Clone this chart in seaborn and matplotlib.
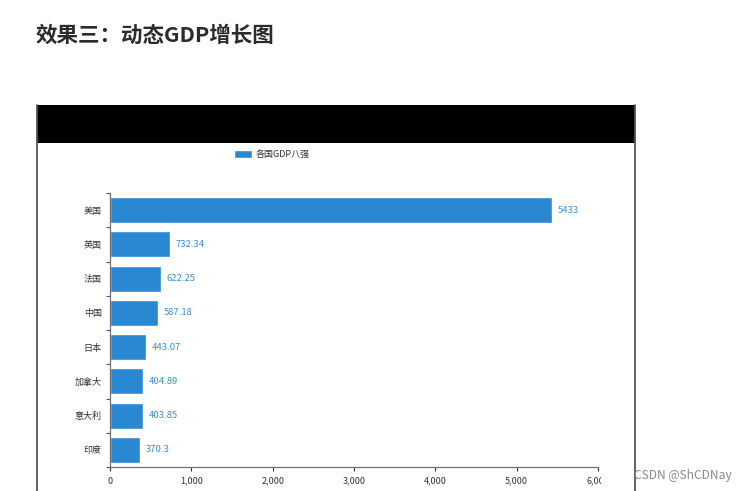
import matplotlib
matplotlib.use("Agg")
import matplotlib.pyplot as plt
import seaborn as sns
import pandas as pd
from matplotlib.patches import Rectangle, FancyBboxPatch
from matplotlib.lines import Line2D
from matplotlib.ticker import FuncFormatter, FixedLocator
from matplotlib.transforms import Bbox, TransformedBbox

countries = ["美国", "英国", "法国", "中国", "日本", "加拿大", "意大利", "印度"]
gdp = [5433, 732.34, 622.25, 587.18, 443.07, 404.89, 403.85, 370.3]
series_name = "各国GDP八强"
page_title = "效果三：动态GDP增长图"
watermark = "CSDN @ShCDNay"
x_ticks = [0, 1000, 2000, 3000, 4000, 5000, 6000]

sns.set_theme(style="white")
plt.rcParams["font.family"] = ["Noto Sans CJK SC", "DejaVu Sans"]

W, H = 750, 491
fig = plt.figure(figsize=(W / 100, H / 100), dpi=100)
fig.patch.set_facecolor("white")

def fx(px):
    return px / W

def fy(py):
    return 1 - py / H

# page title
fig.text(fx(36), fy(35), page_title, fontsize=15.5, fontweight="bold",
         color="#2b2b2b", va="center", ha="left")

# screenshot frame: black band and borders
fig.patches.append(Rectangle((fx(37), fy(143)), fx(635) - fx(37), fy(105) - fy(143),
                             transform=fig.transFigure, facecolor="black",
                             edgecolor="none", zorder=0))
for xp in (37, 635):
    fig.lines.append(Line2D([fx(xp), fx(xp)], [fy(105), 0], transform=fig.transFigure,
                            color="#555555", lw=1.3))

df = pd.DataFrame({"country": countries, "gdp": gdp})

ax = fig.add_axes([fx(110), fy(467), fx(598) - fx(110), fy(193) - fy(467)])
ax.set_facecolor("none")
bar_color = "#2a88d2"
sns.barplot(data=df, x="gdp", y="country", orient="h", color=bar_color,
            saturation=1, width=0.76, ax=ax, label=series_name)

ax.set_xlim(0, 6000)
ax.set_ylim(len(countries) - 0.5, -0.5)
ax.set_xlabel("")
ax.set_ylabel("")

ax.xaxis.set_major_locator(FixedLocator(x_ticks))
ax.xaxis.set_major_formatter(FuncFormatter(lambda v, p: f"{v:,.0f}"))
ax.tick_params(axis="x", labelsize=6.5, colors="#333333", length=3, width=0.8,
               direction="out", pad=4, bottom=True)
ax.tick_params(axis="y", labelsize=6.5, colors="#333333", length=0, pad=6)
ax.set_yticks(range(len(countries)))
ax.set_yticks([i - 0.5 for i in range(len(countries) + 1)], minor=True)
ax.tick_params(axis="y", which="minor", length=3, width=0.8, color="#555555", left=True)

for side in ("top", "right"):
    ax.spines[side].set_visible(False)
for side in ("left", "bottom"):
    ax.spines[side].set_visible(True)
    ax.spines[side].set_color("#6e7079")
    ax.spines[side].set_linewidth(0.9)

ax.bar_label(ax.containers[0], labels=[f"{v:g}" for v in gdp], padding=4,
             fontsize=6.8, color="#3b8fd4")

leg = ax.legend(loc="lower center", frameon=False, fontsize=6.5,
                handlelength=2.0, handleheight=0.9, handletextpad=0.5)
leg.set_bbox_to_anchor((fx(272), fy(167)), transform=fig.transFigure)
for t in leg.get_texts():
    t.set_color("#333333")

# clip the x tick labels at the screenshot's canvas edge (last label is cut)
clip = TransformedBbox(Bbox([[0, 0], [fx(601), 1]]), fig.transFigure)
for t in ax.get_xticklabels():
    t.set_clip_box(clip)
    t.set_clip_on(True)

fig.text(fx(683), fy(475), watermark, fontsize=8.6, color="#8a8a8a",
         ha="center", va="center")

fig.savefig("out.png", dpi=100)
